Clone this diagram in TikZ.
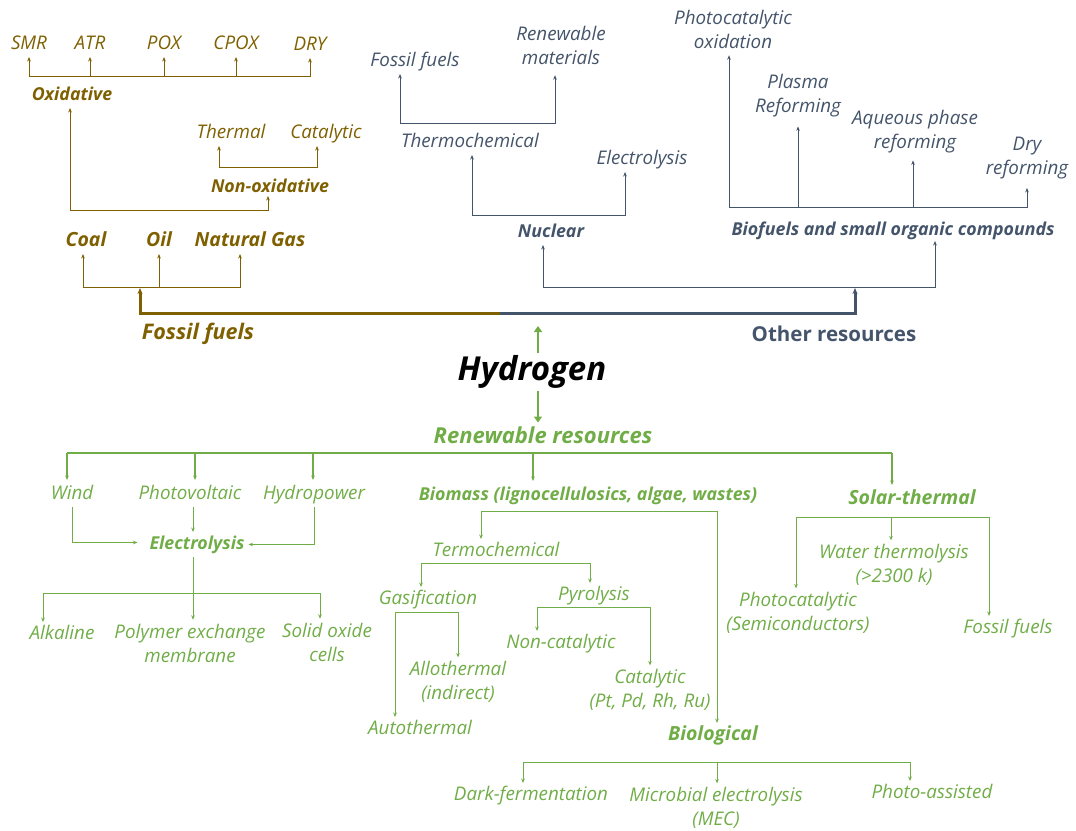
\documentclass[tikz,border=0pt]{standalone}
\usepackage{fontspec}
\setmainfont{Open Sans}
\usetikzlibrary{arrows.meta}
\definecolor{fos}{HTML}{7F6000}
\definecolor{oth}{HTML}{44546A}
\definecolor{ren}{HTML}{70AD47}
\tikzset{
  lbl/.style={font=\fontsize{18.8}{24}\selectfont\itshape, inner sep=2pt, outer sep=2pt, align=center},
  hd/.style={font=\fontsize{17.8}{23}\selectfont\bfseries\itshape, inner sep=2pt, outer sep=2pt, align=center},
  hdl/.style={font=\fontsize{19.5}{23}\selectfont\bfseries\itshape, inner sep=2pt, outer sep=2pt},
  hdxl/.style={font=\fontsize{21.5}{25}\selectfont\bfseries\itshape, inner sep=2pt, outer sep=2pt},
  one/.style={text height=13pt, text depth=4pt, yshift=-2.5pt},
  ln/.style={line width=0.9pt},
  arr/.style={ln, -{Stealth[length=4.5pt,width=3.6pt]}},
  arrs/.style={ln, {Stealth[length=4.5pt,width=3.6pt]}-{Stealth[length=4.5pt,width=3.6pt]}},
  thk/.style={line width=3pt, -{Stealth[length=6pt,width=5pt]}},
  big/.style={line width=2.4pt, -{Triangle[length=6pt,width=8pt]}},
}
\begin{document}
\begin{tikzpicture}[x=1pt,y=-1pt]
\useasboundingbox (0,0) rectangle (1076,830);

% ================= fossil fuels =================
\begin{scope}[text=fos, draw=fos]
\node[lbl,one] (smr) at (29,42) {SMR};
\node[lbl,one] (atr) at (90,42) {ATR};
\node[lbl,one] (pox) at (164,42) {POX};
\node[lbl,one] (cpox) at (236,42) {CPOX};
\node[lbl,one] (dry) at (310,43) {DRY};
\node[hd,one] (oxi) at (72,93) {Oxidative};
\node[lbl,one] (therm) at (231,131) {Thermal};
\node[lbl,one] (cat) at (326,131) {Catalytic};
\node[hd,one] (nonox) at (270,185) {Non-oxidative};
\node[hdl,one] (coal) at (86,239) {Coal};
\node[hdl,one] (oil) at (159,239) {Oil};
\node[hdl,one] (ng) at (250,239) {Natural Gas};
\node[hdxl,one] (ff) at (198,332) {Fossil fuels};

\coordinate (oxbar) at (0,76);
\draw[arrs] (smr.south) -- (smr |- oxbar) -- (dry |- oxbar) -- (dry.south);
\foreach \n in {atr,pox,cpox} \draw[arr] (\n |- oxbar) -- (\n.south);

\coordinate (thbar) at (0,167);
\coordinate (t-th) at ([xshift=-12pt]therm.south);
\coordinate (t-ca) at ([xshift=-9pt]cat.south);
\draw[arrs] (t-th) -- (t-th |- thbar) -- (t-ca |- thbar) -- (t-ca);

\coordinate (onbar) at (0,210);
\coordinate (t-ox) at ([xshift=-2pt]oxi.south);
\coordinate (t-no) at ([xshift=-2pt,yshift=4pt]nonox.south);
\draw[arrs] (t-ox) -- (t-ox |- onbar) -- (t-no |- onbar) -- (t-no);

\coordinate (cbar) at (0,287);
\coordinate (t-co) at ([xshift=-3pt]coal.south);
\coordinate (t-ng) at ([xshift=-10pt]ng.south);
\draw[arrs] (t-co) -- (t-co |- cbar) -- (t-ng |- cbar) -- (t-ng);
\draw[arr] (oil.south |- cbar) -- (oil.south);
\end{scope}

% ================= main axis =================
\coordinate (hub) at (500,313);
\coordinate (ffj) at (140,288);
\coordinate (orj) at (855,288);
\draw[thk, fos] (hub) -| (ffj);
\draw[thk, oth] (hub) -| (orj);

% ================= other resources =================
\begin{scope}[text=oth, draw=oth]
\node[lbl,one] (fos2) at (415,59) {Fossil fuels};
\node[lbl] (renm) at (561,45) {Renewable\\materials};
\node[lbl,one] (thc) at (470,140) {Thermochemical};
\node[lbl,one] (el1) at (642,157) {Electrolysis};
\node[hd,one] (nuc) at (551,230) {Nuclear};
\node[lbl] (pho) at (733,29) {Photocatalytic\\oxidation};
\node[lbl] (pla) at (798,96) {Plasma\\Reforming};
\node[lbl] (aqu) at (915,132) {Aqueous phase\\reforming};
\node[lbl] (dref) at (1027,158) {Dry\\reforming};
\node[hd,one] (bio) at (893,228) {Biofuels and small organic compounds};
\node[font=\fontsize{20.5}{25}\selectfont\bfseries, inner sep=2pt] (oth) at (834,334) {Other resources};

\coordinate (tcbar) at (0,123);
\coordinate (t-f2) at ([xshift=-15pt]fos2.south);
\coordinate (t-rm) at ([xshift=-6pt,yshift=-7pt]renm.south);
\draw[arrs] (t-f2) -- (t-f2 |- tcbar) -- (t-rm |- tcbar) -- (t-rm);

\coordinate (nbar) at (0,215);
\coordinate (t-tc) at ([xshift=2pt]thc.south);
\coordinate (t-e1) at ([xshift=-17pt]el1.south);
\draw[arrs] (t-tc) -- (t-tc |- nbar) -- (t-e1 |- nbar) -- (t-e1);

\coordinate (bbar) at (0,207);
\coordinate (t-ph) at ([xshift=-4pt,yshift=-3pt]pho.south);
\coordinate (t-dr) at ([yshift=-5pt]dref.south);
\draw[arrs] (t-ph) -- (t-ph |- bbar) -- (t-dr |- bbar) -- (t-dr);
\coordinate (t-pl) at ([yshift=-5pt]pla.south);
\draw[arr] (t-pl |- bbar) -- (t-pl);
\coordinate (t-aq) at ([xshift=-2pt,yshift=-3pt]aqu.south);
\draw[arr] (t-aq |- bbar) -- (t-aq);

\coordinate (obar) at (0,287);
\coordinate (t-nu) at ([xshift=-8pt]nuc.south);
\coordinate (t-bi) at ([xshift=42pt,yshift=2pt]bio.south);
\draw[arrs] (t-nu) -- (t-nu |- obar) -- (t-bi |- obar) -- (t-bi);
\end{scope}

% ================= hydrogen =================
\node[font=\fontsize{33}{38}\selectfont\bfseries\itshape, inner sep=2pt] (h2) at (532,372) {Hydrogen};
\draw[big, ren] ([xshift=6pt]h2.north) -- ([xshift=6pt,yshift=-13pt]h2.north |- hub);

% ================= renewable resources =================
\begin{scope}[text=ren, draw=ren]
\node[font=\fontsize{22}{26}\selectfont\bfseries\itshape, inner sep=2pt, outer sep=2pt] (rr) at (543,435) {Renewable resources};
\draw[big] ([xshift=6pt]h2.south) -- ([xshift=-5pt]rr.north);

\node[lbl,one] (wind) at (72,492) {Wind};
\node[lbl,one] (pv) at (190,492) {Photovoltaic};
\node[lbl,one] (hydro) at (314,492) {Hydropower};
\node[hd,one] (bm) at (588,493) {Biomass (lignocellulosics, algae, wastes)};
\node[hdl,one] (sol) at (912,497) {Solar-thermal};

\coordinate (rbar) at (0,453);
\coordinate (t-wi) at ([xshift=-5pt,yshift=2pt]wind.north);
\coordinate (t-pv) at ([xshift=5pt,yshift=2pt]pv.north);
\coordinate (t-hy) at ([xshift=-1pt,yshift=2pt]hydro.north);
\coordinate (t-bm) at ([xshift=-55pt,yshift=2pt]bm.north);
\coordinate (t-so) at ([xshift=-20pt,yshift=2pt]sol.north);
\draw[line width=2.2pt] (t-wi |- rbar) -- (t-so |- rbar);
\foreach \t in {t-wi,t-pv,t-hy,t-bm,t-so} \draw[arr, line width=1.3pt] (\t |- rbar) -- (\t);

% electrolysis
\node[hd,one] (elec) at (197,542) {Electrolysis};
\node[lbl,one] (alk) at (62,632) {Alkaline};
\node[lbl] (pem) at (190,643) {Polymer exchange\\membrane};
\node[lbl] (soc) at (327,642) {Solid oxide\\cells};
\draw[arr] (wind.south) |- ([xshift=-8pt,yshift=2pt]elec.west);
\draw[arr] ([xshift=3pt]pv.south) -- ([xshift=3pt]pv.south |- elec.north);
\draw[arr] (hydro.south) |- (elec.east);
\coordinate (ebar) at (0,593);
\coordinate (t-al) at ([xshift=-19pt]alk.north);
\coordinate (t-pe) at ([xshift=3pt]pem.north);
\coordinate (t-sc) at ([xshift=-7pt]soc.north);
\draw[ln] ([xshift=-4pt]elec.south) -- ([xshift=-4pt]elec.south |- ebar);
\draw[arrs] (t-al) -- (t-al |- ebar) -- (t-sc |- ebar) -- (t-sc);
\draw[arr] (t-pe |- ebar) -- (t-pe);

% biomass
\node[lbl,one] (termo) at (496,549) {Termochemical};
\node[hdl,one] (biol) at (713,733) {Biological};
\coordinate (bmbar) at (0,511);
\coordinate (t-te) at ([xshift=-15pt]termo.north);
\coordinate (t-bl) at ([xshift=4pt]biol.north);
\draw[arrs] (t-te) -- (t-te |- bmbar) -- (t-bl |- bmbar) -- (t-bl);

\node[lbl,one] (gas) at (428,597) {Gasification};
\node[lbl,one] (pyr) at (594,593) {Pyrolysis};
\coordinate (tmbar) at (0,563);
\coordinate (t-ga) at ([xshift=-7pt]gas.north);
\coordinate (t-py) at ([xshift=-4pt]pyr.north);
\draw[arrs] (t-ga) -- (t-ga |- tmbar) -- (t-py |- tmbar) -- (t-py);

\node[lbl,one] (auto) at (420,727) {Autothermal};
\node[lbl] (allo) at (458,682) {Allothermal\\(indirect)};
\coordinate (gbar) at (0,612);
\coordinate (t-au) at ([xshift=-25pt]auto.north);
\coordinate (t-ao) at (allo.north);
\draw[arrs] (t-au) -- (t-au |- gbar) -- (t-ao |- gbar) -- (t-ao);

\node[lbl,one] (ncat) at (561,641) {Non-catalytic};
\node[lbl] (ccat) at (650,690) {Catalytic\\(Pt, Pd, Rh, Ru)};
\coordinate (pbar) at (0,607);
\coordinate (t-nc) at ([xshift=-24pt]ncat.north);
\coordinate (t-cc) at (ccat.north);
\draw[arrs] (t-nc) -- (t-nc |- pbar) -- (t-cc |- pbar) -- (t-cc);

\node[lbl,one] (dark) at (531,793) {Dark-fermentation};
\node[lbl] (mec) at (716,808) {Microbial electrolysis\\(MEC)};
\node[lbl,one] (phas) at (932,791) {Photo-assisted};
\coordinate (blbar) at (0,762);
\coordinate (t-dk) at ([xshift=-8pt]dark.north);
\coordinate (t-mc) at ([xshift=1pt]mec.north);
\coordinate (t-pa) at ([xshift=-22pt]phas.north);
\draw[arrs] (t-dk) -- (t-dk |- blbar) -- (t-pa |- blbar) -- (t-pa);
\draw[arr] (t-mc |- blbar) -- (t-mc);

% solar-thermal
\node[lbl] (wt) at (894,565) {Water thermolysis\\(>2300 k)};
\node[lbl] (pc) at (798,613) {Photocatalytic\\(Semiconductors)};
\node[lbl,one] (ffs) at (1008,626) {Fossil fuels};
\coordinate (sbar) at (0,517);
\coordinate (t-pc) at ([xshift=-2pt]pc.north);
\coordinate (t-wt) at ([xshift=-3pt]wt.north);
\coordinate (t-fs) at ([xshift=-19pt]ffs.north);
\draw[arrs] (t-pc) -- (t-pc |- sbar) -- (t-fs |- sbar) -- (t-fs);
\draw[arr] (t-wt |- sbar) -- (t-wt);
\end{scope}
\end{tikzpicture}
\end{document}
